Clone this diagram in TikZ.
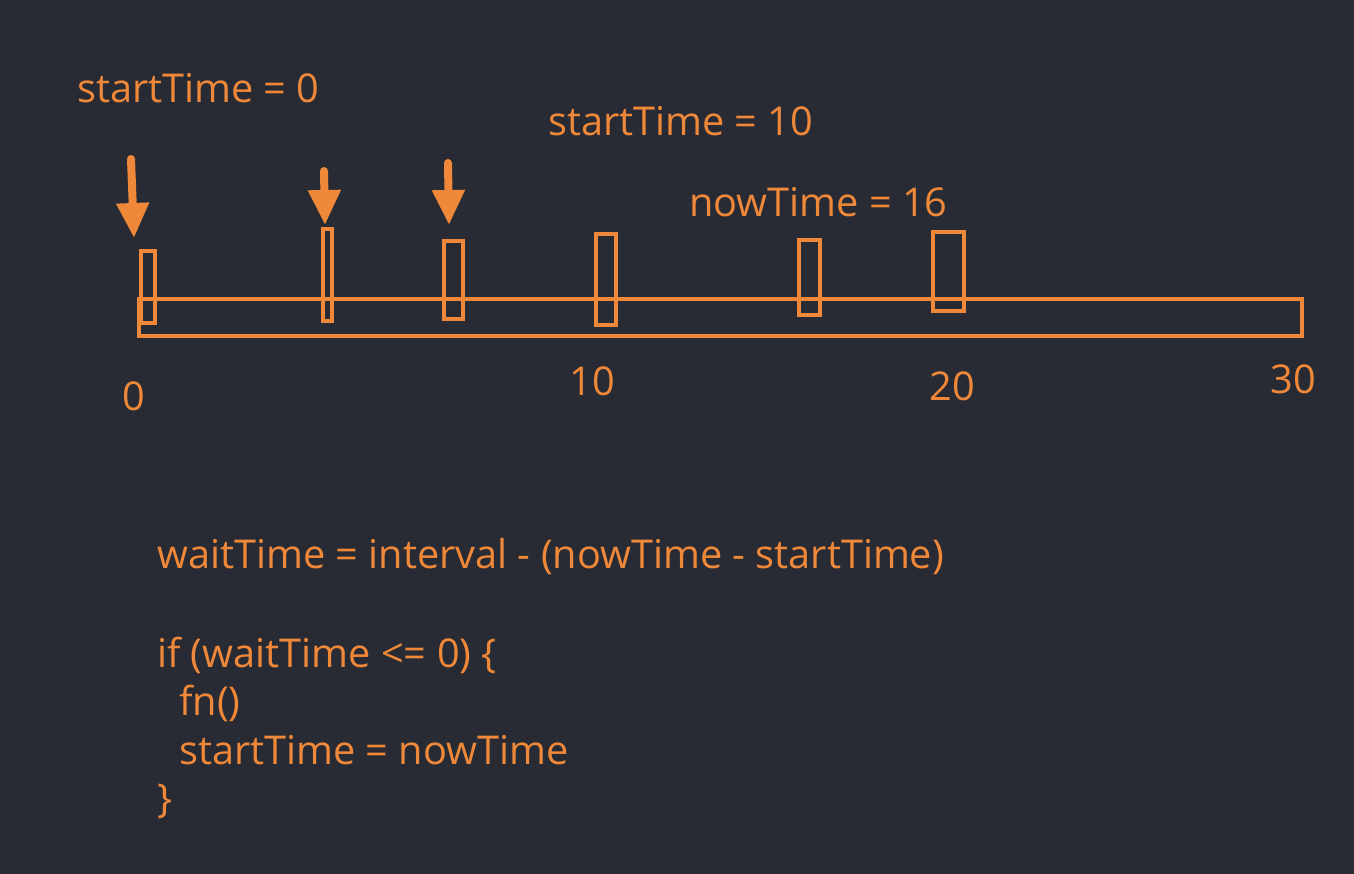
\documentclass[tikz,border=0pt]{standalone}
\usepackage{fontspec}
\setmainfont{Open Sans}
\usetikzlibrary{arrows.meta}
\definecolor{bg}{RGB}{40,43,51}
\definecolor{orng}{RGB}{240,136,58}
\tikzstyle{tb}=[draw=orng,line width=4pt,inner sep=0pt,outer sep=0pt]
\tikzstyle{lb}=[text=orng,inner sep=0pt,anchor=base west,
  font=\fontsize{39.7}{48}\selectfont]
\tikzstyle{num}=[text=orng,inner sep=0pt,font=\fontsize{39.7}{48}\selectfont]
\tikzstyle{ar}=[draw=orng,line width=8pt,line cap=round,
  -{Triangle[width=31pt,length=35pt]}]
\begin{document}
\begin{tikzpicture}[x=1pt,y=-1pt]
    \fill[bg] (0,0) rectangle (1354,874);
    \useasboundingbox (0,0) rectangle (1354,874);
    % timeline
    \node [style=tb,minimum width=1163pt,minimum height=37pt] (0) at (720.5,317.5) {};
    \node [style=tb,minimum width=14pt,minimum height=72pt] (1) at (148,287) {};
    \node [style=tb,minimum width=9pt,minimum height=92pt] (2) at (327.5,275) {};
    \node [style=tb,minimum width=19pt,minimum height=78pt] (3) at (453.5,280) {};
    \node [style=tb,minimum width=20pt,minimum height=91pt] (4) at (606,279.5) {};
    \node [style=tb,minimum width=21pt,minimum height=75pt] (5) at (809.5,277.5) {};
    \node [style=tb,minimum width=31pt,minimum height=79pt] (6) at (948.5,271.5) {};
    \node [style=num] (n0) at (134,396) {0};
    \node [style=num] (n10) at (592,381) {10};
    \node [style=num] (n20) at (952,386) {20};
    \node [style=num] (n30) at (1293,379) {30};
    % labels
    \node [style=lb] (s0) at (77,103) {startTime = 0};
    \node [style=lb] (s10) at (548,136) {startTime = 10};
    \node [style=lb] (now) at (689,217) {nowTime = 16};
    % arrows
    \coordinate (a1) at (131,159);
    \coordinate (b1) at (134,238);
    \coordinate (a2) at (324,171);
    \coordinate (b2) at (325,225);
    \coordinate (a3) at (448,163);
    \coordinate (b3) at (449,225);
    \draw [style=ar] (a1) to (b1);
    \draw [style=ar] (a2) to (b2);
    \draw [style=ar] (a3) to (b3);
    % code
    \node [style=lb] (c1) at (157,568) {waitTime = interval - (nowTime - startTime)};
    \node [style=lb] (c2) at (157,667) {if (waitTime <= 0) \{};
    \node [style=lb] (c3) at (179,715) {fn()};
    \node [style=lb] (c4) at (179,764) {startTime = nowTime};
    \node [style=lb] (c5) at (157,812) {\}};
\end{tikzpicture}
\end{document}
